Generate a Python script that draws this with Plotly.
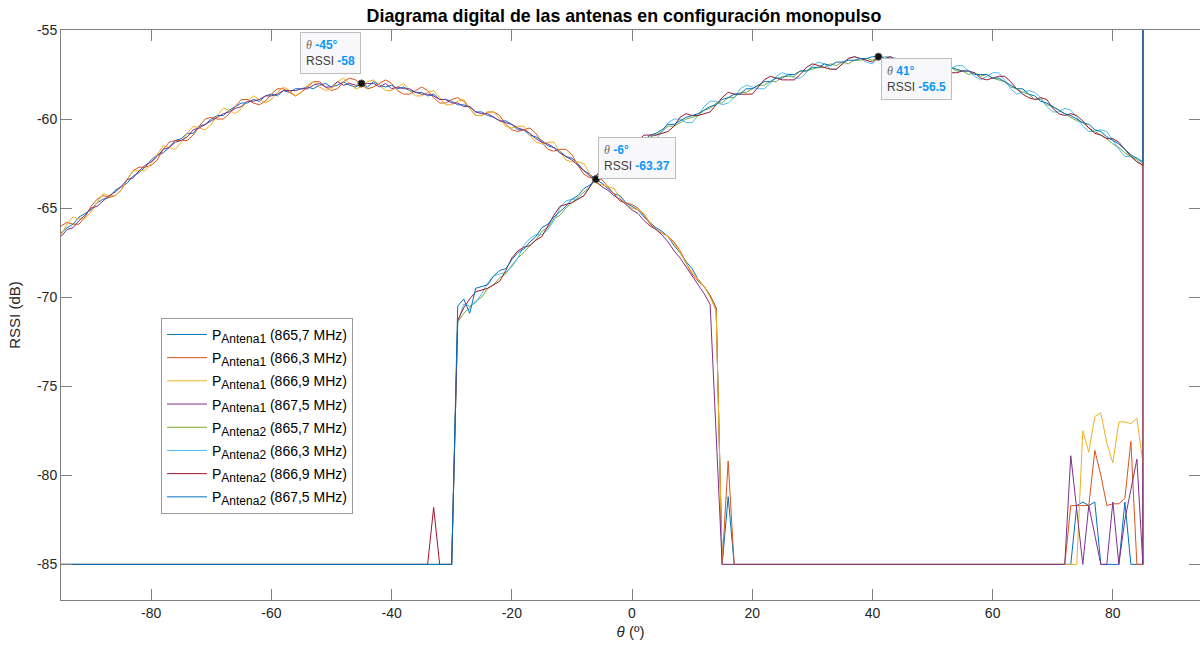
import plotly.graph_objects as go

# ---------------- data ----------------
# angle samples (deg); the last 85 is the off-scale reading at the sweep end
theta = list(range(-95, 86)) + [85]

FLOOR = -85.0
OFFSCALE = -30.0

# Antena 1 -- main lobe from -95 to 14 deg
a1_8657 = [
    -66.4, -66.1, -65.9, -65.5, -65.3, -65.1, -64.7, -64.5, -64.4, -64.0,
    -63.8, -63.6, -63.2, -63.0, -62.7, -62.3, -62.0, -61.9, -61.6, -61.2,
    -61.1, -60.8, -60.8, -60.4, -60.3, -60.0, -59.8, -59.8, -59.5, -59.3,
    -59.1, -59.1, -58.9, -59.0, -58.7, -58.6, -58.7, -58.4, -58.5, -58.3,
    -58.3, -58.2, -58.3, -58.1, -58.0, -58.2, -58.1, -57.9, -58.1, -58.2,
    -58.0, -58.2, -57.9, -58.1, -58.2, -58.1, -58.3, -58.2, -58.4, -58.5,
    -58.5, -58.7, -58.6, -58.9, -58.9, -59.0, -59.2, -59.2, -59.3, -59.6,
    -59.6, -59.8, -59.9, -60.1, -60.1, -60.3, -60.6, -60.6, -60.9, -61.0,
    -61.2, -61.5, -61.6, -61.8, -62.1, -62.2, -62.5, -62.9, -63.1, -63.4,
    -63.6, -63.9, -64.2, -64.3, -64.7, -64.9, -65.1, -65.5, -65.8, -66.1,
    -66.3, -66.6, -67.1, -67.5, -68.0, -68.4, -69.0, -69.4, -69.9, -70.6,
] + [-85.0, -81.2] + [FLOOR] * 56 + [
    -85.0, -81.7, -81.5, -81.7, -81.5, -85.0, -85.0, -85.0, -85.0, -81.5, -85.0, -85.0, -85.0,
] + [OFFSCALE]

a1_8663 = [
    -66.0, -65.8, -65.9, -65.9, -65.5, -64.9, -64.5, -64.3, -64.4, -64.3,
    -64.0, -63.4, -62.9, -62.7, -62.7, -62.6, -62.3, -61.7, -61.3, -61.2,
    -61.2, -61.2, -60.9, -60.4, -60.0, -59.9, -60.0, -60.0, -59.7, -59.3,
    -58.9, -58.9, -59.1, -59.2, -59.0, -58.6, -58.3, -58.3, -58.5, -58.7,
    -58.5, -58.2, -57.9, -57.9, -58.2, -58.4, -58.3, -57.9, -57.7, -57.8,
    -58.1, -58.3, -58.2, -58.0, -57.8, -58.0, -58.4, -58.6, -58.6, -58.4,
    -58.2, -58.4, -58.8, -59.1, -59.1, -58.9, -58.8, -59.0, -59.4, -59.8,
    -59.8, -59.6, -59.6, -59.8, -60.3, -60.6, -60.7, -60.6, -60.5, -60.8,
    -61.3, -61.7, -61.8, -61.7, -61.7, -62.0, -62.6, -63.1, -63.3, -63.3,
    -63.4, -63.8, -64.2, -64.6, -64.7, -64.8, -65.0, -65.4, -65.9, -66.2,
    -66.4, -66.6, -66.9, -67.4, -68.1, -68.7, -69.1, -69.4, -69.9, -70.6,
] + [-85.0, -79.2] + [FLOOR] * 56 + [
    -81.7, -81.7, -81.7, -81.7, -78.6, -80.0, -81.7, -81.6, -81.6, -81.3, -78.1, -85.0, -85.0,
] + [OFFSCALE]

a1_8669 = [
    -66.5, -65.9, -65.5, -65.6, -65.6, -65.2, -64.7, -64.2, -64.3, -64.3,
    -64.0, -63.4, -62.9, -62.9, -62.9, -62.5, -62.0, -61.5, -61.6, -61.7,
    -61.3, -60.8, -60.4, -60.5, -60.6, -60.3, -59.8, -59.4, -59.5, -59.7,
    -59.4, -59.0, -58.7, -58.9, -59.1, -58.9, -58.5, -58.2, -58.4, -58.7,
    -58.5, -58.1, -57.9, -58.2, -58.4, -58.3, -57.9, -57.7, -58.0, -58.3,
    -58.2, -57.9, -57.8, -58.1, -58.4, -58.4, -58.2, -58.0, -58.4, -58.7,
    -58.7, -58.5, -58.4, -58.8, -59.2, -59.2, -59.0, -58.9, -59.4, -59.8,
    -59.8, -59.6, -59.6, -60.0, -60.4, -60.5, -60.4, -60.4, -60.9, -61.3,
    -61.4, -61.3, -61.3, -61.8, -62.3, -62.4, -62.4, -62.5, -63.1, -63.6,
    -63.7, -63.8, -63.9, -64.4, -64.8, -65.0, -65.1, -65.3, -65.8, -66.2,
    -66.4, -66.6, -67.0, -67.5, -68.1, -68.6, -69.0, -69.4, -70.0, -70.8,
] + [-85.0, -85.0] + [FLOOR] * 56 + [
    -85.0, -85.0, -77.5, -78.7, -76.7, -76.5, -78.2, -79.3, -77.0, -77.0, -77.1, -76.8, -79.3,
] + [OFFSCALE]

a1_8675 = [
    -66.6, -66.2, -66.1, -65.7, -65.4, -65.0, -64.9, -64.6, -64.3, -64.1,
    -63.8, -63.4, -63.3, -62.9, -62.6, -62.4, -62.1, -61.7, -61.6, -61.3,
    -61.2, -61.0, -60.6, -60.5, -60.3, -60.1, -59.9, -59.7, -59.6, -59.4,
    -59.3, -59.0, -59.0, -58.9, -58.7, -58.7, -58.6, -58.4, -58.4, -58.4,
    -58.3, -58.3, -58.1, -58.0, -58.2, -58.2, -57.9, -58.1, -58.0, -58.1,
    -58.1, -58.0, -58.0, -58.2, -58.0, -58.3, -58.2, -58.3, -58.3, -58.5,
    -58.6, -58.6, -58.7, -58.9, -58.9, -59.1, -59.1, -59.3, -59.3, -59.6,
    -59.7, -59.7, -59.9, -60.1, -60.2, -60.3, -60.5, -60.6, -60.8, -61.1,
    -61.3, -61.4, -61.6, -61.9, -62.1, -62.3, -62.6, -62.9, -63.2, -63.5,
    -63.8, -64.0, -64.3, -64.5, -64.8, -65.1, -65.3, -65.7, -66.0, -66.2,
    -66.5, -66.9, -67.4, -67.8, -68.3, -68.8, -69.3, -69.8, -70.4, -77.5,
] + [-85.0, -85.0] + [FLOOR] * 56 + [
    -78.9, -82.0, -85.0, -81.7, -83.4, -85.0, -85.0, -81.5, -85.0, -82.5, -80.8, -79.1, -85.0,
] + [OFFSCALE]

# Antena 2 -- main lobe from -29 to 85 deg
a2_8657 = [FLOOR] * 66 + [
    -71.4, -70.9, -70.6, -70.2, -70.0, -69.5, -69.3, -68.9, -68.7, -68.2,
    -67.8, -67.5, -67.1, -66.8, -66.3, -66.1, -65.6, -65.4, -65.0, -64.7,
    -64.4, -64.1, -63.8, -63.37, -63.2, -62.8, -62.6, -62.2, -62.0, -61.6,
    -61.5, -61.3, -61.0, -60.9, -60.7, -60.4, -60.4, -60.2, -60.0, -59.9,
    -59.8, -59.5, -59.4, -59.1, -59.1, -58.8, -58.8, -58.5, -58.5, -58.3,
    -58.1, -58.1, -57.9, -57.9, -57.6, -57.6, -57.6, -57.3, -57.3, -57.2,
    -57.1, -57.1, -56.9, -57.0, -56.8, -56.9, -56.7, -56.7, -56.6, -56.7,
    -56.6, -56.7, -56.5, -56.8, -56.7, -56.9, -56.8, -57.0, -56.9, -57.1,
    -57.0, -57.1, -57.1, -57.3, -57.3, -57.5, -57.4, -57.6, -57.5, -57.7,
    -57.8, -57.9, -58.2, -58.3, -58.5, -58.6, -58.9, -58.9, -59.2, -59.3,
    -59.5, -59.7, -59.9, -60.1, -60.2, -60.5, -60.7, -60.9, -61.1, -61.4,
    -61.6, -61.9, -62.1, -62.3, -62.6,
] + [OFFSCALE]

a2_8663 = [FLOOR] * 66 + [
    -71.4, -70.4, -70.5, -70.3, -69.8, -69.2, -68.8, -68.7, -68.6, -68.3,
    -67.8, -67.1, -66.7, -66.5, -66.5, -66.2, -65.7, -65.0, -64.6, -64.5,
    -64.5, -64.3, -63.8, -63.2, -62.8, -62.7, -62.7, -62.5, -62.0, -61.4,
    -61.1, -61.1, -61.2, -61.1, -60.7, -60.2, -60.0, -60.0, -60.2, -60.2,
    -59.8, -59.3, -59.0, -59.0, -59.2, -59.1, -58.8, -58.3, -58.1, -58.2,
    -58.3, -58.3, -58.0, -57.6, -57.4, -57.5, -57.7, -57.7, -57.4, -57.0,
    -56.8, -56.9, -57.2, -57.2, -56.9, -56.6, -56.5, -56.6, -56.8, -56.9,
    -56.6, -56.5, -56.5, -56.6, -56.9, -57.1, -56.9, -56.7, -56.6, -56.9,
    -57.2, -57.3, -57.2, -57.0, -57.0, -57.3, -57.6, -57.8, -57.6, -57.4,
    -57.4, -57.8, -58.3, -58.6, -58.5, -58.4, -58.5, -58.8, -59.3, -59.6,
    -59.6, -59.4, -59.5, -59.9, -60.4, -60.7, -60.7, -60.6, -60.7, -61.2,
    -61.7, -62.1, -62.1, -62.2, -62.5,
] + [OFFSCALE]

a2_8669 = [FLOOR] * 62 + [-81.8] + [FLOOR] * 3 + [
    -71.3, -70.6, -70.1, -69.7, -69.6, -69.5, -69.3, -69.1, -68.5, -67.8,
    -67.4, -67.2, -67.1, -66.8, -66.6, -66.0, -65.4, -64.9, -64.8, -64.7,
    -64.5, -64.3, -63.8, -63.2, -62.8, -62.7, -62.6, -62.4, -62.2, -61.7,
    -61.2, -60.9, -60.9, -60.9, -60.8, -60.7, -60.4, -59.9, -59.7, -59.8,
    -59.8, -59.7, -59.6, -59.2, -58.8, -58.5, -58.6, -58.6, -58.6, -58.6,
    -58.2, -57.8, -57.6, -57.7, -57.8, -57.8, -57.8, -57.5, -57.1, -56.9,
    -57.0, -57.1, -57.2, -57.2, -56.9, -56.6, -56.5, -56.6, -56.7, -56.8,
    -56.5, -56.6, -56.5, -56.7, -56.8, -57.0, -57.1, -56.9, -56.7, -56.8,
    -57.0, -57.3, -57.4, -57.4, -57.3, -57.3, -57.4, -57.7, -57.8, -57.7,
    -57.6, -57.6, -57.9, -58.3, -58.6, -58.8, -58.9, -58.8, -58.9, -59.4,
    -59.7, -59.8, -59.7, -59.8, -60.1, -60.5, -60.8, -60.9, -61.1, -61.1,
    -61.3, -61.7, -62.1, -62.4, -62.6,
] + [OFFSCALE]

a2_8675 = [FLOOR] * 66 + [
    -70.5, -70.1, -70.9, -69.5, -69.4, -69.3, -68.8, -68.5, -68.4, -67.9,
    -67.5, -67.3, -66.9, -66.6, -66.1, -65.9, -65.5, -65.2, -64.9, -64.5,
    -64.3, -63.9, -63.7, -63.4, -63.0, -62.8, -62.4, -62.2, -61.8, -61.6,
    -61.3, -61.2, -60.9, -60.8, -60.6, -60.3, -60.3, -60.1, -59.9, -59.8,
    -59.7, -59.5, -59.3, -59.2, -58.9, -58.8, -58.6, -58.6, -58.3, -58.3,
    -58.1, -57.9, -57.9, -57.7, -57.7, -57.5, -57.5, -57.3, -57.3, -57.1,
    -57.1, -56.9, -57.0, -56.8, -56.8, -56.7, -56.7, -56.6, -56.6, -56.5,
    -56.5, -56.6, -56.6, -56.7, -56.6, -56.8, -56.8, -56.9, -57.0, -56.9,
    -57.0, -57.1, -57.1, -57.2, -57.3, -57.3, -57.5, -57.5, -57.5, -57.7,
    -57.7, -57.9, -58.1, -58.3, -58.3, -58.6, -58.7, -59.0, -59.1, -59.3,
    -59.5, -59.7, -59.8, -60.0, -60.2, -60.3, -60.6, -60.7, -61.0, -61.2,
    -61.4, -61.7, -62.0, -62.2, -62.4,
] + [OFFSCALE]

SUB = "<sub><span style='font-size:12px'>{}</span></sub>"
series_names = [
    "P" + SUB.format("Antena1") + " (865,7 MHz)",
    "P" + SUB.format("Antena1") + " (866,3 MHz)",
    "P" + SUB.format("Antena1") + " (866,9 MHz)",
    "P" + SUB.format("Antena1") + " (867,5 MHz)",
    "P" + SUB.format("Antena2") + " (865,7 MHz)",
    "P" + SUB.format("Antena2") + " (866,3 MHz)",
    "P" + SUB.format("Antena2") + " (866,9 MHz)",
    "P" + SUB.format("Antena2") + " (867,5 MHz)",
]
series_values = [a1_8657, a1_8663, a1_8669, a1_8675, a2_8657, a2_8663, a2_8669, a2_8675]
series_colors = ["#0072BD", "#D95319", "#EDB120", "#7E2F8E",
                 "#77AC30", "#4DBEEE", "#A2142F", "#0072BD"]

# data tips
tip_theta = [-45, -6, 41]
tip_rssi = [-58, -63.37, -56.5]
tip_theta_text = ["-45°", "-6°", "41°"]
tip_rssi_text = ["-58", "-63.37", "-56.5"]

x_ticks = [-80, -60, -40, -20, 0, 20, 40, 60, 80]
x_ticktext = ["-80", "-60", "-40", "-20", "0", "20", "40", "60", "80"]
y_ticks = [-85, -80, -75, -70, -65, -60, -55]
y_ticktext = ["-85", "-80", "-75", "-70", "-65", "-60", "-55"]

for v in series_values:
    assert len(v) == len(theta), len(v)

# ---------------- figure ----------------
fig = go.Figure()
for i, (name, vals, col) in enumerate(zip(series_names, series_values, series_colors)):
    fig.add_trace(go.Scatter(x=theta, y=vals, mode="lines", name=name,
                             legendgroup=f"g{i}",
                             line=dict(color=col, width=1)))

fig.add_trace(go.Scatter(x=tip_theta, y=tip_rssi, mode="markers", showlegend=False,
                         marker=dict(color="#111111", size=7,
                                     line=dict(color="#555533", width=1))))

tip_layout = [
    dict(xanchor="right", yanchor="bottom", xshift=-1, yshift=9),
    dict(xanchor="left", yanchor="bottom", xshift=2, yshift=0),
    dict(xanchor="left", yanchor="top", xshift=3, yshift=-1),
]
VAL = "#0A96F5"
for t, r, tt, rt, lay in zip(tip_theta, tip_rssi, tip_theta_text, tip_rssi_text, tip_layout):
    txt = (f"<span style='font-family:Liberation Serif;font-style:italic;color:#666666'>θ</span> "
           f"<b><span style='color:{VAL}'>{tt}</span></b><br>"
           f"<span style='color:#404040'>RSSI</span> <b><span style='color:{VAL}'>{rt}</span></b>")
    fig.add_annotation(x=t, y=r, xref="x", yref="y", text=txt, showarrow=False,
                       align="left", bgcolor="#F8F8FB", bordercolor="#BDBDBD",
                       borderwidth=1, borderpad=5,
                       font=dict(family="Liberation Sans, Arial, sans-serif", size=12, color="#404040"),
                       **lay)

axis_col = "#808080"
fig.update_layout(
    width=1200, height=650,
    margin=dict(l=61, r=0, t=30, b=50),
    paper_bgcolor="white", plot_bgcolor="white",
    font=dict(family="Liberation Sans, Arial, sans-serif", size=14, color="#262626"),
    title=dict(text="<b>Diagrama digital de las antenas en configuración monopulso</b>",
               x=0.52, xanchor="center", y=0.975, yanchor="middle",
               font=dict(size=17.8, color="#000000")),
    showlegend=True,
    legend=dict(x=0.0878, y=0.495, xanchor="left", yanchor="top",
                bgcolor="white", bordercolor="#9a9a9a", borderwidth=1,
                font=dict(size=14, color="#000000"), tracegroupgap=2, itemwidth=40),
    xaxis=dict(range=[-95, 94.5], tickvals=x_ticks, ticktext=x_ticktext,
               ticks="inside", ticklen=11, tickcolor=axis_col, tickwidth=1,
               showline=True, linecolor=axis_col, linewidth=1, mirror="ticks",
               showgrid=False, zeroline=False,
               title=dict(text="<i>θ</i> (º)", standoff=6, font=dict(size=15))),
    yaxis=dict(range=[-87, -55], tickvals=y_ticks, ticktext=y_ticktext,
               ticks="inside", ticklen=11, tickcolor=axis_col, tickwidth=1,
               showline=True, linecolor=axis_col, linewidth=1, mirror="ticks",
               showgrid=False, zeroline=False,
               title=dict(text="RSSI (dB)", standoff=12, font=dict(size=15))),
)

fig.write_html("out.html", config={"displayModeBar": False})
